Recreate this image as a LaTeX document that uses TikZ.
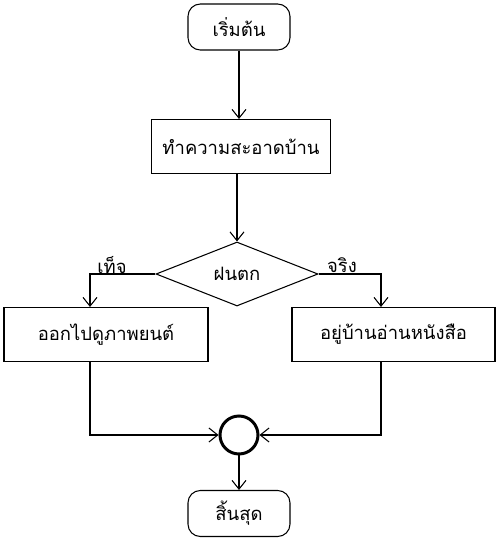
\documentclass[tikz,border=0pt]{standalone}
\usepackage{fontspec}
\newfontfamily\thaifont[Script=Thai]{Loma}
\usetikzlibrary{arrows.meta,shapes.geometric}
\tikzset{>={Straight Barb[length=5pt,width=8pt]}}
\tikzset{
  term/.style={draw,rounded corners=7pt,minimum width=2.04cm,minimum height=0.92cm,font=\thaifont\fontsize{10.5}{12}\selectfont},
  proc/.style={draw,minimum height=1.08cm,font=\thaifont\fontsize{10.5}{12}\selectfont},
  cond/.style={draw,diamond,inner sep=0pt,minimum width=3.24cm,minimum height=1.28cm,font=\thaifont\fontsize{10.5}{12}\selectfont},
  merge/.style={draw,circle,line width=1.7pt,minimum size=0.76cm,inner sep=0pt},
  lbl/.style={font=\thaifont\fontsize{10.5}{12}\selectfont}
}

\begin{document}
\begin{tikzpicture}[line width=0.6pt]
\useasboundingbox (0,0) rectangle (10.02,10.84);
\node[term] (start) at (4.78,10.30) {เริ่มต้น};
\node[proc,minimum width=3.58cm] (clean) at (4.82,7.91) {ทำความสะอาดบ้าน};
\node[cond] (rain) at (4.74,5.36) {ฝนตก};
\node[proc,minimum width=4.08cm] (movie) at (2.12,4.15) {ออกไปดูภาพยนต์};
\node[proc,minimum width=4.06cm] (read) at (7.87,4.15) {อยู่บ้านอ่านหนังสือ};
\node[merge] (join) at (4.78,2.14) {};
\node[term] (stop) at (4.78,0.57) {สิ้นสุด};
\coordinate (L) at (1.80,5.36);
\coordinate (R) at (7.62,5.36);
\coordinate (LJ) at (1.80,2.14);
\coordinate (RJ) at (7.62,2.14);

\draw[->] (start.south) -- (start.south |- clean.north);
\draw[->] (rain.north |- clean.south) -- (rain.north);
\draw[->] (rain.west) -- (L) -- (L |- movie.north);
\draw[->] (rain.east) -- (R) -- (R |- read.north);
\draw[->] (L |- movie.south) -- (LJ) -- (join.west);
\draw[->] (R |- read.south) -- (RJ) -- (join.east);
\draw[->] (join.south) -- (stop.north);
\node[lbl] (no) at (2.24,5.54) {เท็จ};
\node[lbl] (yes) at (6.84,5.54) {จริง};
\end{tikzpicture}
\end{document}
